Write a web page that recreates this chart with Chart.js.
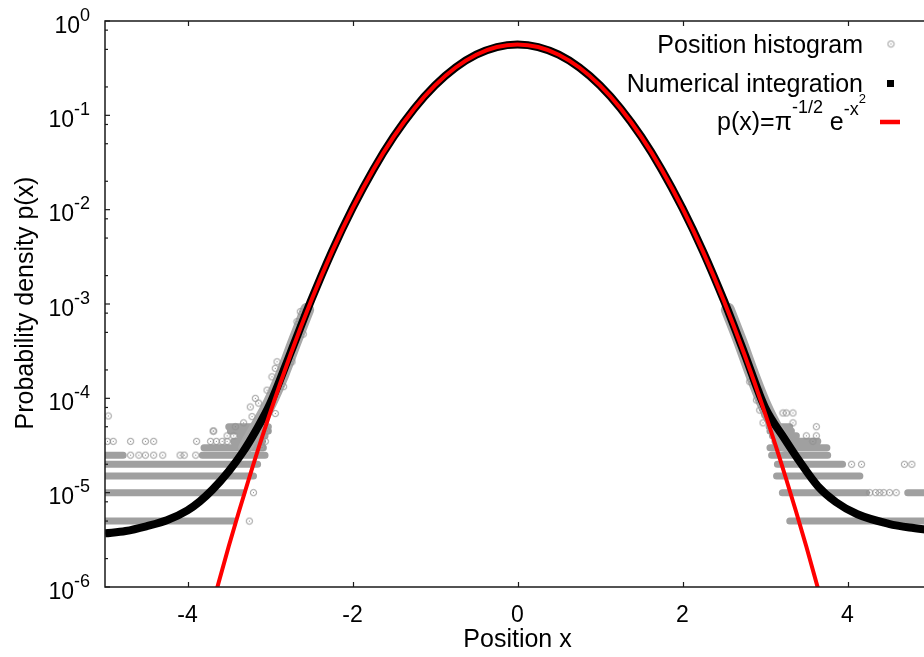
<!DOCTYPE html>
<html><head><meta charset="utf-8">
<script src="https://cdn.jsdelivr.net/npm/chart.js@4"></script>
<style>
html,body{margin:0;padding:0;background:#fff;overflow:hidden;width:924px;height:657px}
#wrap{position:absolute;left:0;top:0;width:935px;height:657px}
</style></head><body>
<div id="wrap"><canvas id="c"></canvas></div>
<script>
// ---------- data ----------
const xTickValues = [-4, -2, 0, 2, 4];
const yTickExponents = [0, -1, -2, -3, -4, -5, -6];
const yMinorMantissas = [2, 5, 8];
const xAxisTitle = 'Position x';
const yAxisTitle = 'Probability density p(x)';
const legendLabels = ['Position histogram', 'Numerical integration'];

// theory p(x)=pi^-1/2 e^-x^2
const theoryX = [-3.75,-3.5,-3.25,-3.0,-2.75,-2.5,-2.25,-2.0,-1.75,-1.5,-1.25,-1.0,-0.75,-0.5,-0.25,0,
                 0.25,0.5,0.75,1.0,1.25,1.5,1.75,2.0,2.25,2.5,2.75,3.0,3.25,3.5,3.75];
const theoryY = [4.41e-7,2.70e-6,1.457e-5,6.96e-5,2.93e-4,1.089e-3,3.57e-3,1.033e-2,2.639e-2,5.947e-2,0.1183,0.2076,0.3215,0.4394,0.5300,0.5642,
                 0.5300,0.4394,0.3215,0.2076,0.1183,5.947e-2,2.639e-2,1.033e-2,3.57e-3,1.089e-3,2.93e-4,6.96e-5,1.457e-5,2.70e-6,4.41e-7];

// numerical integration (black)
const numX = [-5.0,-4.75,-4.5,-4.25,-4.0,-3.85,-3.7,-3.5,-3.33,-3.17,-3.0,-2.75,-2.5,-2.25,-2.0,-1.75,-1.5,-1.25,-1.0,-0.75,-0.5,-0.25,0,
              0.25,0.5,0.75,1.0,1.25,1.5,1.75,2.0,2.25,2.5,2.75,3.0,3.24,3.42,3.64,3.86,4.12,4.5,4.75,5.0];
const numY = [3.7e-6,3.92e-6,4.4e-6,5.1e-6,6.5e-6,8.1e-6,1.07e-5,1.69e-5,2.69e-5,4.57e-5,8.7e-5,3.05e-4,1.1e-3,3.6e-3,1.035e-2,2.64e-2,5.95e-2,0.1183,0.2076,0.3215,0.4394,0.5300,0.5642,
              0.5300,0.4394,0.3215,0.2076,0.1183,5.95e-2,2.64e-2,1.035e-2,3.6e-3,1.1e-3,3.0e-4,8.0e-5,3.7e-5,2.14e-5,1.175e-5,7.94e-6,5.9e-6,4.68e-6,4.27e-6,4.03e-6];

// histogram: dense rows (level, from x, to x)
const histRowY  = [5e-6,1e-5,1.5e-5,2e-5,2.5e-5,2.5e-5,3e-5,3.5e-5,4e-5,4.5e-5,5e-5,
                   5e-6,1e-5,1e-5,1.5e-5,2e-5,2.5e-5,3e-5,3.5e-5,4e-5,4.5e-5,5e-5];
const histRowX0 = [-5.0,-5.0,-5.0,-5.0,-5.0,-3.82,-3.80,-3.44,-3.36,-3.48,-3.50,
                   3.30,3.21,4.73,3.14,3.15,3.08,3.06,3.12,3.09,3.06,3.05];
const histRowX1 = [-3.44,-3.33,-3.20,-3.15,-4.78,-3.06,-3.08,-3.09,-3.06,-3.02,-3.02,
                   5.0,4.23,5.0,4.15,3.94,3.76,3.75,3.64,3.38,3.32,3.30];

// histogram: dense cloud along the curve
const histBandLX = [-3.30,-3.17,-3.0,-2.85,-2.7,-2.55];
const histBandLY = [3.0e-5,4.8e-5,9.0e-5,1.8e-4,4.0e-4,8.7e-4];
const histBandRX = [2.55,2.7,2.85,3.0,3.15,3.25];
const histBandRY = [8.7e-4,4.0e-4,1.75e-4,8.2e-5,4.5e-5,3.2e-5];

// histogram: individual points
const histPtX = [-3.25,-3.20,
  -4.69,-4.59,-4.51,-4.41,-4.30,-4.09,-4.04,-3.90,
  -4.97,-4.90,-4.69,-4.51,-4.41,-3.89,-3.72,-3.65,-3.58,-3.52,
  -3.52,-3.44,-3.69,-4.96,
  -2.633,-2.673,-2.597,-2.734,-2.915,-2.936,-2.976,-2.875,-2.835,-3.036,-3.178,-3.138,-3.239,-2.936,-3.218,-3.32,-3.42,-3.683,-3.036,-3.057,-3.097,
  4.27,4.34,4.39,4.44,4.51,4.59,
  4.05,4.17,4.69,4.78,
  2.815,2.936,2.896,2.936,2.996,3.218,3.259,3.339,2.976,3.339,3.622,3.501,3.622,3.581];
const histPtY = [5e-6,1e-5,
  2.5e-5,2.5e-5,2.5e-5,2.5e-5,2.5e-5,2.5e-5,2.5e-5,2.5e-5,
  3.5e-5,3.5e-5,3.5e-5,3.5e-5,3.5e-5,3.5e-5,3.5e-5,3.5e-5,3.5e-5,3.5e-5,
  4e-5,4e-5,4.5e-5,6.5e-5,
  8.3e-4,6.5e-4,4.8e-4,2.44e-4,2.44e-4,2.08e-4,1.69e-4,1.56e-4,1.33e-4,1.22e-4,1.0e-4,8.9e-5,8.1e-5,6.9e-5,6.4e-5,5.5e-5,5e-5,4.5e-5,4.5e-5,3.5e-5,3e-5,
  1e-5,1e-5,1e-5,1e-5,1e-5,1e-5,
  2e-5,2e-5,2e-5,2e-5,
  1.5e-4,1.22e-4,9.6e-5,7.5e-5,6.65e-5,7e-5,7e-5,7e-5,5.5e-5,5.5e-5,5e-5,4e-5,4e-5,3.5e-5];

// ---------- styling ----------
const FONT = '"Liberation Sans", Arial, Helvetica, sans-serif';
const histColor = '#a0a0a0';
const redColor = '#ff0000';

function zip(xs, ys){ return xs.map((x,i)=>({x:x, y:ys[i]})); }
function rowsData(){
  const d=[];
  for(let i=0;i<histRowY.length;i++){
    d.push({x:histRowX0[i],y:histRowY[i]},{x:histRowX1[i],y:histRowY[i]},{x:histRowX1[i],y:null});
  }
  return d;
}
function makeHistSymbol(){
  const c=document.createElement('canvas'); c.width=9; c.height=9;
  const g=c.getContext('2d');
  g.strokeStyle='#909090'; g.lineWidth=1;
  g.beginPath(); g.arc(4.5,4.5,3.1,0,2*Math.PI); g.stroke();
  g.fillStyle='#808080'; g.fillRect(4,4,1,1);
  return c;
}
const histSymbol = makeHistSymbol();

function drawRich(ctx, pieces, xRight, baseline){
  let total=0;
  pieces.forEach(p=>{ctx.font=p.size+'px '+FONT; p.w=ctx.measureText(p.t).width; total+=p.w;});
  let x=xRight-total;
  ctx.textAlign='left'; ctx.textBaseline='alphabetic';
  pieces.forEach(p=>{ctx.font=p.size+'px '+FONT; ctx.fillText(p.t,x,baseline-p.rise); x+=p.w;});
}

const axesPlugin = {
  id:'gnuplotAxes',
  afterDraw(chart){
    const ctx=chart.ctx, a=chart.chartArea, xs=chart.scales.x, ys=chart.scales.y;
    ctx.save();
    ctx.strokeStyle='#1a1a1a'; ctx.lineWidth=1.5;
    ctx.strokeRect(a.left,a.top,a.right-a.left,a.bottom-a.top);
    ctx.lineWidth=1.2;
    // x ticks
    xTickValues.forEach(v=>{
      const px=Math.round(xs.getPixelForValue(v))+0.5;
      ctx.beginPath(); ctx.moveTo(px,a.bottom); ctx.lineTo(px,a.bottom-5);
      ctx.moveTo(px,a.top); ctx.lineTo(px,a.top+5); ctx.stroke();
    });
    // y ticks
    yTickExponents.forEach(e=>{
      const py=ys.getPixelForValue(Math.pow(10,e));
      ctx.beginPath(); ctx.moveTo(a.left,py); ctx.lineTo(a.left+5,py); ctx.stroke();
      if(e<0){
        yMinorMantissas.forEach(m=>{
          const v=m*Math.pow(10,e); const q=ys.getPixelForValue(v);
          ctx.beginPath(); ctx.moveTo(a.left,q); ctx.lineTo(a.left+3,q); ctx.stroke();
        });
      }
    });
    ctx.fillStyle='#000';
    // x tick labels
    ctx.font='23px '+FONT; ctx.textAlign='center'; ctx.textBaseline='alphabetic';
    xTickValues.forEach(v=>{ ctx.fillText(String(v), xs.getPixelForValue(v), 622); });
    // y tick labels
    yTickExponents.forEach(e=>{
      const py=ys.getPixelForValue(Math.pow(10,e));
      drawRich(ctx,[{t:'10',size:23,rise:0},{t:String(e),size:18,rise:12}],90,py+11.5);
    });
    // axis titles
    ctx.font='25px '+FONT; ctx.textAlign='center'; ctx.textBaseline='alphabetic';
    ctx.fillText(xAxisTitle,(xs.getPixelForValue(0)),647);
    ctx.save(); ctx.translate(33,303); ctx.rotate(-Math.PI/2);
    ctx.fillText(yAxisTitle,0,0); ctx.restore();
    // legend
    ctx.font='25px '+FONT; ctx.textAlign='right';
    ctx.fillText(legendLabels[0],863,53);
    ctx.fillText(legendLabels[1],863,92);
    drawRich(ctx,[{t:'p(x)=π',size:25,rise:0},{t:'-1/2',size:18,rise:17},{t:' e',size:25,rise:0},{t:'-x',size:18,rise:15},{t:'2',size:13,rise:27}],866,130);
    ctx.drawImage(histSymbol,891-4.5,44-4.5);
    ctx.fillStyle='#000'; ctx.fillRect(887,80,7,7);
    ctx.strokeStyle=redColor; ctx.lineWidth=4.5; ctx.beginPath(); ctx.moveTo(880,122); ctx.lineTo(900,122); ctx.stroke();
    ctx.restore();
  }
};

new Chart(document.getElementById('c'), {
  type:'line',
  data:{datasets:[
    {label:'p(x)=π^-1/2 e^-x^2', data:zip(theoryX,theoryY), borderColor:redColor, borderWidth:4, pointRadius:0,
     cubicInterpolationMode:'monotone', order:0, clip:0},
    {label:'Numerical integration', data:zip(numX,numY), borderColor:'#000', borderWidth:8, pointRadius:0,
     cubicInterpolationMode:'monotone', order:1, clip:0},
    {label:'Position histogram points', data:zip(histPtX,histPtY), showLine:false, pointStyle:histSymbol, pointRadius:4, order:2, clip:0},
    {label:'Position histogram band L', data:zip(histBandLX,histBandLY), borderColor:'#a8a8a8', borderWidth:14, pointRadius:0,
     cubicInterpolationMode:'monotone', borderCapStyle:'round', order:3, clip:0},
    {label:'Position histogram band R', data:zip(histBandRX,histBandRY), borderColor:'#a8a8a8', borderWidth:14, pointRadius:0,
     cubicInterpolationMode:'monotone', borderCapStyle:'round', order:3, clip:0},
    {label:'Position histogram rows', data:rowsData(), borderColor:histColor, borderWidth:7, pointRadius:0,
     borderCapStyle:'round', spanGaps:false, tension:0, order:4, clip:0}
  ]},
  options:{
    responsive:true, maintainAspectRatio:false, animation:false, devicePixelRatio:1,
    layout:{padding:{left:105,right:5,top:21,bottom:70}},
    scales:{
      x:{type:'linear',min:-5,max:5,display:false},
      y:{type:'logarithmic',min:1e-6,max:1,display:false}
    },
    plugins:{legend:{display:false},tooltip:{enabled:false}},
    events:[]
  },
  plugins:[axesPlugin]
});
</script>
</body></html>
